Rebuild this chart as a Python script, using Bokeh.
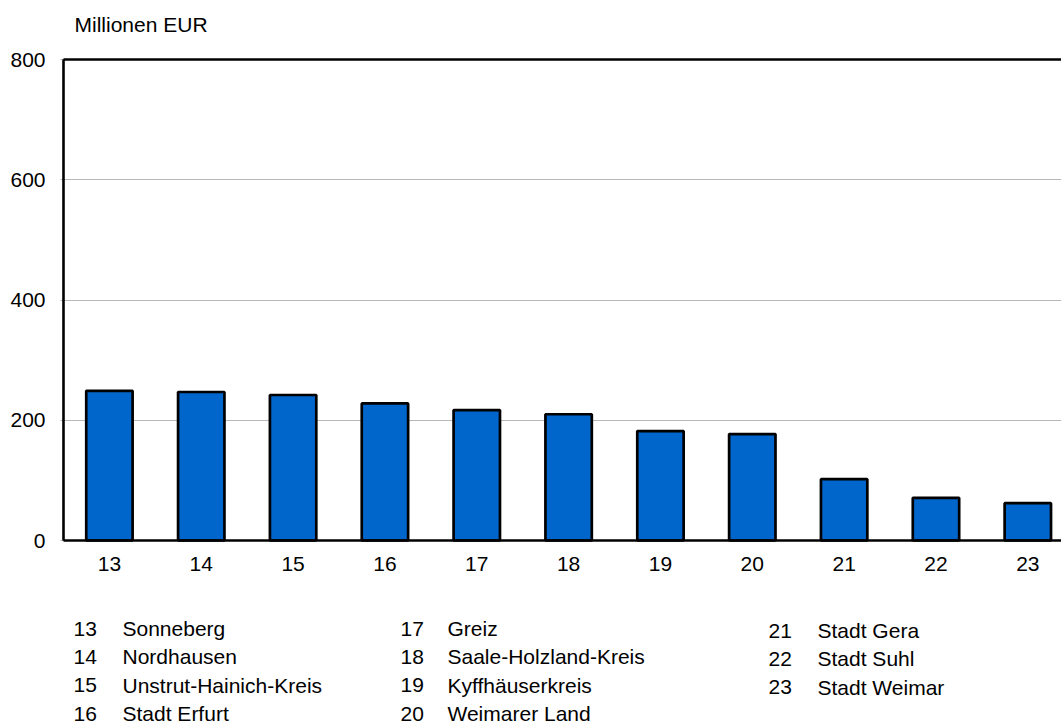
from bokeh.plotting import figure
from bokeh.models import ColumnDataSource, FixedTicker, Range1d
from bokeh.core.properties import value
from bokeh.embed import file_html
from bokeh.resources import INLINE

codes = [13, 14, 15, 16, 17, 18, 19, 20, 21, 22, 23]
names = ["Sonneberg", "Nordhausen", "Unstrut-Hainich-Kreis", "Stadt Erfurt",
         "Greiz", "Saale-Holzland-Kreis", "Kyffhäuserkreis", "Weimarer Land",
         "Stadt Gera", "Stadt Suhl", "Stadt Weimar"]
values = [249, 247, 242, 228, 217, 210, 182, 177, 102, 71, 62]
y_ticks = [0, 200, 400, 600, 800]
unit_label = "Millionen EUR"

FONT = "Liberation Sans"
FS = "21px"

W, H = 1061, 724
FRAME_LEFT = 60          # canvas px where frame starts
AXIS_X = 63              # canvas px of the y axis line
ZERO_Y = 540             # canvas px of value 0
TOP_Y = 59               # canvas px of value 800
BAND = 91.84             # px per category

ppu_y = (ZERO_Y - TOP_Y) / (y_ticks[-1] - y_ticks[0])
x_start = codes[0] - 0.5 - (AXIS_X - FRAME_LEFT) / BAND
x_end = x_start + (W - FRAME_LEFT) / BAND
y_start = y_ticks[0] - (H - ZERO_Y) / ppu_y
y_end = y_ticks[-1] + TOP_Y / ppu_y


def dx(px):
    return codes[0] - 0.5 + px / BAND


def dy_below(px):
    return y_ticks[0] - px / ppu_y


p = figure(width=W, height=H, output_backend="svg", toolbar_location=None,
           x_range=Range1d(x_start, x_end), y_range=Range1d(y_start, y_end),
           min_border_left=FRAME_LEFT, min_border_top=0, min_border_bottom=0,
           min_border_right=0)
p.outline_line_color = None
p.xaxis.visible = False

# y axis labels only
p.yaxis.ticker = FixedTicker(ticks=y_ticks)
p.yaxis.axis_line_color = None
p.yaxis.major_tick_line_color = None
p.yaxis.minor_tick_line_color = None
p.yaxis.major_tick_out = 0
p.yaxis.major_tick_in = 0
p.yaxis.major_label_text_font = FONT
p.yaxis.major_label_text_font_size = FS
p.yaxis.major_label_text_color = "black"
p.yaxis.major_label_standoff = 15

p.xgrid.grid_line_color = None
p.ygrid.grid_line_color = "#6e6e6e"
p.ygrid.grid_line_dash = "1 1"
p.ygrid.grid_line_width = 1

# bars
src = ColumnDataSource(dict(x=codes, top=values))
p.vbar(x="x", top="top", bottom=0, width=0.505, source=src,
       fill_color="#0066CC", line_color="black", line_width=2.7)

# frame lines: left axis, bottom axis, top border
x_left = codes[0] - 0.5
p.segment(x0=[x_left, x_left, x_left], y0=[y_ticks[0], y_ticks[0], y_ticks[-1]],
          x1=[x_left, x_end, x_end], y1=[y_ticks[-1], y_ticks[0], y_ticks[-1]],
          line_color="black", line_width=2.6)

# x category labels
p.text(x=codes, y=[dy_below(23)] * len(codes), text=[str(c) for c in codes],
       text_font=value(FONT), text_font_size=value(FS), text_color="black",
       text_align="center", text_baseline="middle")

# unit label
p.text(x=[dx(11)], y=[y_ticks[-1] + 35 / ppu_y], text=[unit_label],
       text_font=value(FONT), text_font_size=value(FS), text_color="black",
       text_align="left", text_baseline="middle")

# key below chart
groups = [(0, 4, 10, 59, 88), (4, 8, 337, 384, 88), (8, 11, 705, 754, 90)]
for start, end, xn, xt, y0 in groups:
    idx = list(range(start, end))
    ys = [dy_below(y0 + i * 28.4) for i in range(len(idx))]
    p.text(x=[dx(xn)] * len(idx), y=ys, text=[str(codes[k]) for k in idx],
           text_font=value(FONT), text_font_size=value(FS), text_color="black",
           text_align="left", text_baseline="middle")
    p.text(x=[dx(xt)] * len(idx), y=ys, text=[names[k] for k in idx],
           text_font=value(FONT), text_font_size=value(FS), text_color="black",
           text_align="left", text_baseline="middle")

open("out.html", "w").write(file_html(p, INLINE))
